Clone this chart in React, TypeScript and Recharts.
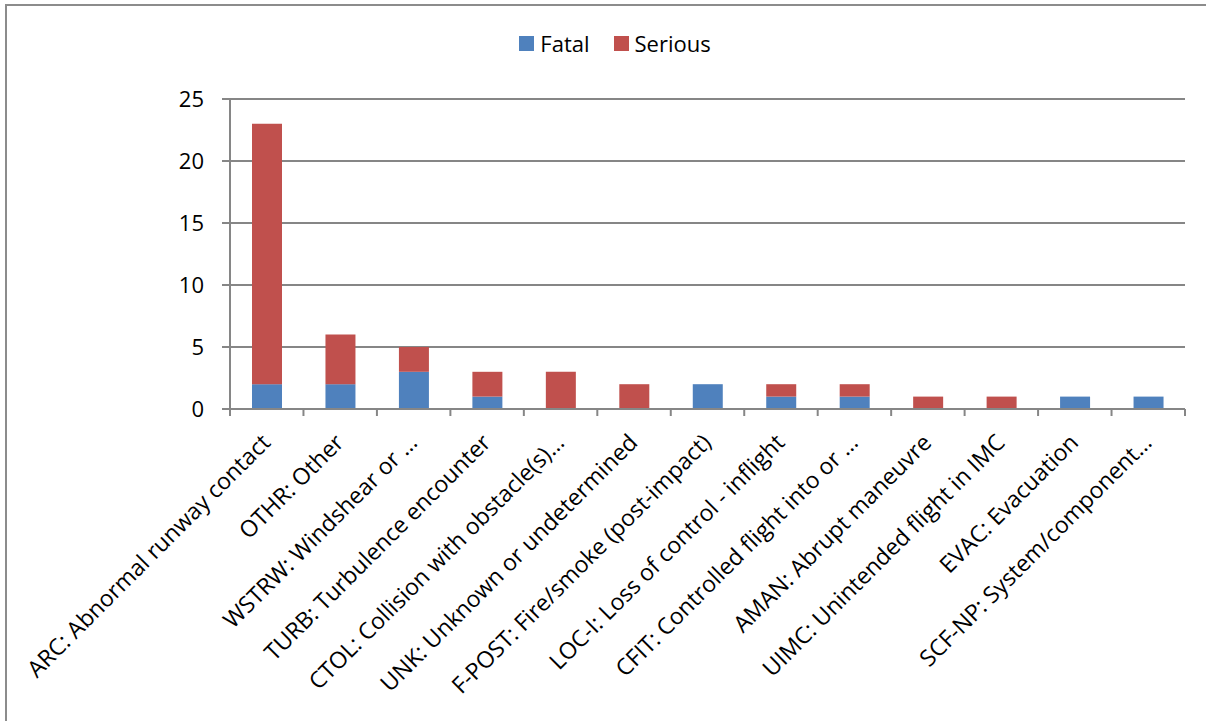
import { BarChart, Bar, XAxis, YAxis, CartesianGrid, Legend } from "recharts"

const categories = [
  "ARC: Abnormal runway contact",
  "OTHR: Other",
  "WSTRW: Windshear or …",
  "TURB: Turbulence encounter",
  "CTOL: Collision with obstacle(s)…",
  "UNK: Unknown or undetermined",
  "F-POST: Fire/smoke (post-impact)",
  "LOC-I: Loss of control - inflight",
  "CFIT: Controlled flight into or …",
  "AMAN: Abrupt maneuvre",
  "UIMC: Unintended flight in IMC",
  "EVAC: Evacuation",
  "SCF-NP: System/component…",
]
const fatal = [2, 2, 3, 1, 0, 0, 2, 1, 1, 0, 0, 1, 1]
const serious = [21, 4, 2, 2, 3, 2, 0, 1, 1, 1, 1, 0, 0]
const yTicks = [0, 5, 10, 15, 20, 25]

const BLUE = "#4F81BD"
const RED = "#C0504D"
const AXIS = "#868686"
const FONT = "'Open Sans', sans-serif"

const chartData = categories.map((name, i) => ({
  name,
  Fatal: fatal[i],
  Serious: serious[i],
}))

function CategoryTick(props: any) {
  const { x, y, payload, index } = props
  const half = payload?.offset || 36.7
  return (
    <g>
      <line x1={x - half} y1={y} x2={x - half} y2={y + 7} stroke={AXIS} strokeWidth={2} />
      {index === categories.length - 1 && (
        <line x1={x + half} y1={y} x2={x + half} y2={y + 7} stroke={AXIS} strokeWidth={2} />
      )}
      <text
        x={x + 5}
        y={y + 35}
        transform={`rotate(-45, ${x + 5}, ${y + 35})`}
        textAnchor="end"
        fontFamily={FONT}
        fontSize={23}
        fill="#000"
      >
        {payload.value}
      </text>
    </g>
  )
}

function LegendContent() {
  const items = [
    { label: "Fatal", color: BLUE },
    { label: "Serious", color: RED },
  ]
  return (
    <div style={{ display: "flex", justifyContent: "center", gap: 24, fontFamily: FONT, fontSize: 22, paddingLeft: 24 }}>
      {items.map((item) => (
        <div key={item.label} style={{ display: "flex", alignItems: "center", gap: 6 }}>
          <div style={{ width: 15, height: 15, backgroundColor: item.color }} />
          <span>{item.label}</span>
        </div>
      ))}
    </div>
  )
}

export default function App() {
  return (
    <div style={{ position: "absolute", left: 0, top: 0, width: 1206, height: 721, overflow: "hidden", background: "#fff" }}>
      <div
        style={{
          position: "absolute",
          left: 5,
          top: 4,
          width: 1400,
          height: 900,
          border: "2px solid #8c8c8c",
        }}
      />
      <div style={{ position: "absolute", left: 0, top: 0 }}>
        <BarChart
          width={1206}
          height={721}
          data={chartData}
          margin={{ top: 69, right: 21, bottom: 12, left: 170 }}
          barSize={30}
        >
          <CartesianGrid vertical={false} stroke={AXIS} strokeWidth={2} />
          <XAxis
            dataKey="name"
            height={300}
            interval={0}
            axisLine={{ stroke: AXIS, strokeWidth: 2 }}
            tickLine={false}
            tickSize={0}
            tickMargin={0}
            tick={<CategoryTick />}
          />
          <YAxis
            width={60}
            domain={[0, 25]}
            ticks={yTicks}
            interval={0}
            axisLine={{ stroke: AXIS, strokeWidth: 2 }}
            tickLine={{ stroke: AXIS, strokeWidth: 2 }}
            tickSize={8}
            tickMargin={18}
            tick={{ fill: "#000", fontFamily: FONT, fontSize: 22 }}
          />
          <Legend
            verticalAlign="top"
            content={<LegendContent />}
            wrapperStyle={{ top: 28, left: 0, width: 1206 }}
          />
          <Bar dataKey="Fatal" stackId="a" fill={BLUE} isAnimationActive={false} />
          <Bar dataKey="Serious" stackId="a" fill={RED} isAnimationActive={false} />
        </BarChart>
      </div>
    </div>
  )
}
